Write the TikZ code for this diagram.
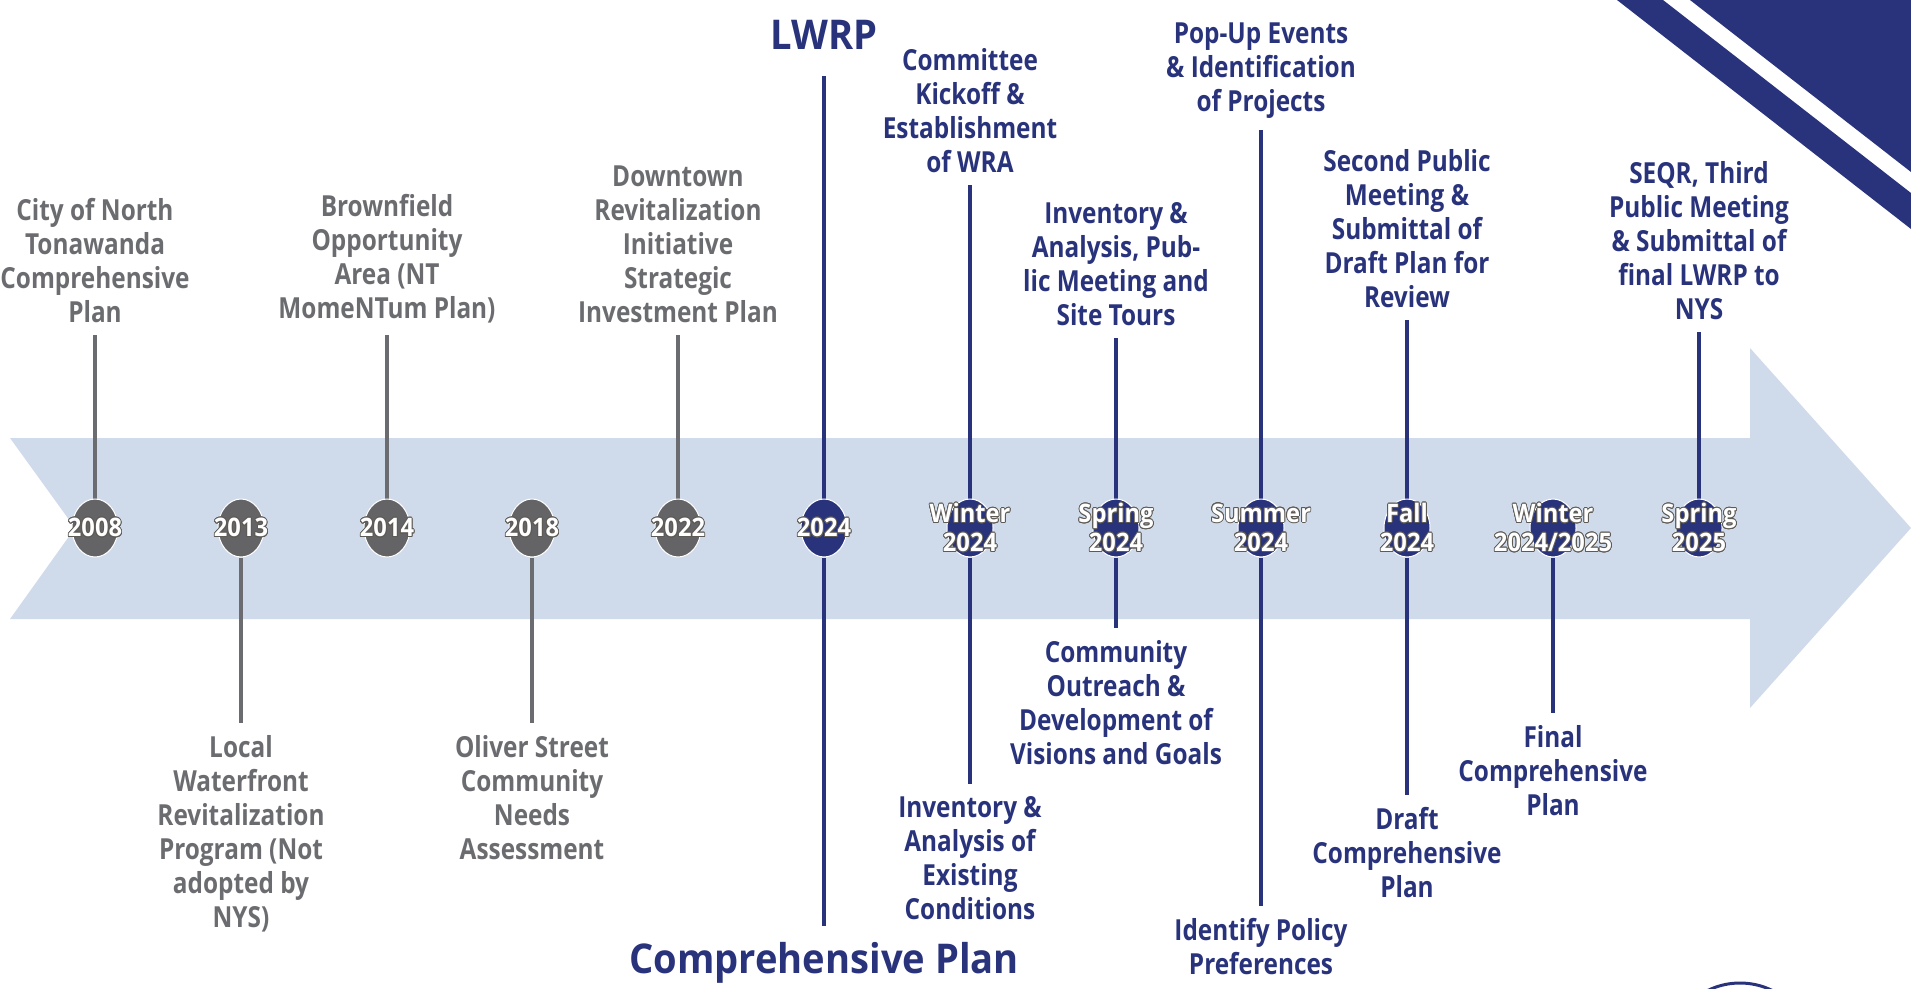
\documentclass[tikz,border=0pt]{standalone}
\usepackage{fontspec}
\newfontfamily\lblfont{Open Sans}[FakeStretch=0.84]
\newfontfamily\ttlfont{Open Sans}[FakeStretch=0.93]
\usepackage[copies]{contour}
\contourlength{0.8pt}
\usetikzlibrary{shapes.geometric, backgrounds}

\definecolor{lwrpnavy}{HTML}{29337C}
\definecolor{pastgray}{HTML}{6B6C70}
\definecolor{yeargray}{HTML}{646467}
\definecolor{bandblue}{HTML}{CFDBEB}
\definecolor{yearedge}{HTML}{5E5A55}

\newcommand{\yr}[1]{\contour{yearedge}{#1}}

\begin{document}
\begin{tikzpicture}[
    x=1pt, y=-1pt,
    yr/.style={
        ellipse,
        minimum width=46pt,
        minimum height=58pt,
        inner sep=0pt,
        draw=white,
        line width=1pt
    },
    oldyr/.style={yr, fill=yeargray},
    newyr/.style={yr, fill=lwrpnavy},
    yrtext/.style={ % Year written over the dot
        text=white,
        align=center,
        inner sep=0pt,
        font=\ttlfont\bfseries\fontsize{25.5}{29}\selectfont
    },
    event/.style={
        align=center,
        inner sep=0pt,
        outer sep=12pt,
        font=\lblfont\bfseries\fontsize{29}{34}\selectfont
    },
    upper/.style={event, anchor=south},
    lower/.style={event, anchor=north},
    past/.style={text=pastgray},
    now/.style={text=lwrpnavy},
    stem/.style={line width=4pt},
    title/.style={
        inner sep=0pt,
        text=lwrpnavy,
        font=\ttlfont\bfseries\fontsize{41}{48}\selectfont
    }
]
    \useasboundingbox (0,0) rectangle (1911,988);

    % Past plans
    \node[oldyr, label={[yrtext]center:\yr{2008}}] (c0) at (95,528) {};
    \node[upper, past] (t0) at (95,335) {City of North\\Tonawanda\\Comprehensive\\Plan};

    \node[oldyr, label={[yrtext]center:\yr{2013}}] (c1) at (241,528) {};
    \node[lower, past] (b1) at (241,723) {Local\\Waterfront\\Revitalization\\Program (Not\\adopted by\\NYS)};

    \node[oldyr, label={[yrtext]center:\yr{2014}}] (c2) at (387,528) {};
    \node[upper, past] (t2) at (387,335) {Brownfield\\Opportunity\\Area (NT\\MomeNTum Plan)};

    \node[oldyr, label={[yrtext]center:\yr{2018}}] (c3) at (532,528) {};
    \node[lower, past] (b3) at (532,723) {Oliver Street\\Community\\Needs\\Assessment};

    \node[oldyr, label={[yrtext]center:\yr{2022}}] (c4) at (678,528) {};
    \node[upper, past] (t4) at (678,335) {Downtown\\Revitalization\\Initiative\\Strategic\\Investment Plan};

    % 2024 split
    \node[newyr, label={[yrtext]center:\yr{2024}}] (c5) at (824,528) {};
    \node[title, anchor=south, outer sep=27pt] (lwrp) at (824,76) {LWRP};
    \node[title, anchor=north, outer sep=16pt] (cplan) at (824,926) {Comprehensive Plan};

    % Current work
    \node[newyr, label={[yrtext]center:{\yr{Winter}\\\yr{2024}}}] (c6) at (970,528) {};
    \node[upper, now] (t6) at (970,185) {Committee\\Kickoff \&\\Establishment\\of WRA};
    \node[lower, now] (b6) at (970,784) {Inventory \&\\Analysis of\\Existing\\Conditions};

    \node[newyr, label={[yrtext]center:{\yr{Spring}\\\yr{2024}}}] (c7) at (1116,528) {};
    \node[upper, now] (t7) at (1116,338) {Inventory \&\\Analysis, Pub-\\lic Meeting and\\Site Tours};
    \node[lower, now] (b7) at (1116,628) {Community\\Outreach \&\\Development of\\Visions and Goals};

    \node[newyr, label={[yrtext]center:{\yr{Summer}\\\yr{2024}}}] (c8) at (1261,528) {};
    \node[upper, now] (t8) at (1261,130) {Pop-Up Events\\\& Identification\\of Projects};
    \node[lower, now] (b8) at (1261,906) {Identify Policy\\Preferences};

    \node[newyr, label={[yrtext]center:{\yr{Fall}\\\yr{2024}}}] (c9) at (1407,528) {};
    \node[upper, now] (t9) at (1407,320) {Second Public\\Meeting \&\\Submittal of\\Draft Plan for\\Review};
    \node[lower, now] (b9) at (1407,795) {Draft\\Comprehensive\\Plan};

    \node[newyr, label={[yrtext]center:{\yr{Winter}\\\yr{2024/2025}}}] (c10) at (1553,528) {};
    \node[lower, now] (b10) at (1553,713) {Final\\Comprehensive\\Plan};

    \node[newyr, label={[yrtext]center:{\yr{Spring}\\\yr{2025}}}] (c11) at (1699,528) {};
    \node[upper, now] (t11) at (1699,332) {SEQR, Third\\Public Meeting\\\& Submittal of\\final LWRP to\\NYS};

    % Corner stripes
    \fill[lwrpnavy] (1690,0) -- (1911,0) -- (1911,172) -- cycle;
    \fill[lwrpnavy] (1617,0) -- (1663,0) -- (1911,193) -- (1911,229) -- cycle;
    \draw[lwrpnavy, line width=3pt] (1740,1056) circle[radius=73];

    \begin{scope}[on background layer]
        % Arrow band
        \fill[bandblue] (10,438) -- (1750,438) -- (1750,348) -- (1911,528)
            -- (1750,708) -- (1750,619) -- (10,619) -- (75,528) -- cycle;

        \draw[stem, pastgray] (t0.south) -- (c0.north);
        \draw[stem, pastgray] (c1.south) -- (b1.north);
        \draw[stem, pastgray] (t2.south) -- (c2.north);
        \draw[stem, pastgray] (c3.south) -- (b3.north);
        \draw[stem, pastgray] (t4.south) -- (c4.north);

        \draw[stem, lwrpnavy] (lwrp.south) -- (c5.north);
        \draw[stem, lwrpnavy] (c5.south) -- (cplan.north);
        \draw[stem, lwrpnavy] (t6.south) -- (c6.north);
        \draw[stem, lwrpnavy] (c6.south) -- (b6.north);
        \draw[stem, lwrpnavy] (t7.south) -- (c7.north);
        \draw[stem, lwrpnavy] (c7.south) -- (b7.north);
        \draw[stem, lwrpnavy] (t8.south) -- (c8.north);
        \draw[stem, lwrpnavy] (c8.south) -- (b8.north);
        \draw[stem, lwrpnavy] (t9.south) -- (c9.north);
        \draw[stem, lwrpnavy] (c9.south) -- (b9.north);
        \draw[stem, lwrpnavy] (c10.south) -- (b10.north);
        \draw[stem, lwrpnavy] (t11.south) -- (c11.north);
    \end{scope}
\end{tikzpicture}
\end{document}
